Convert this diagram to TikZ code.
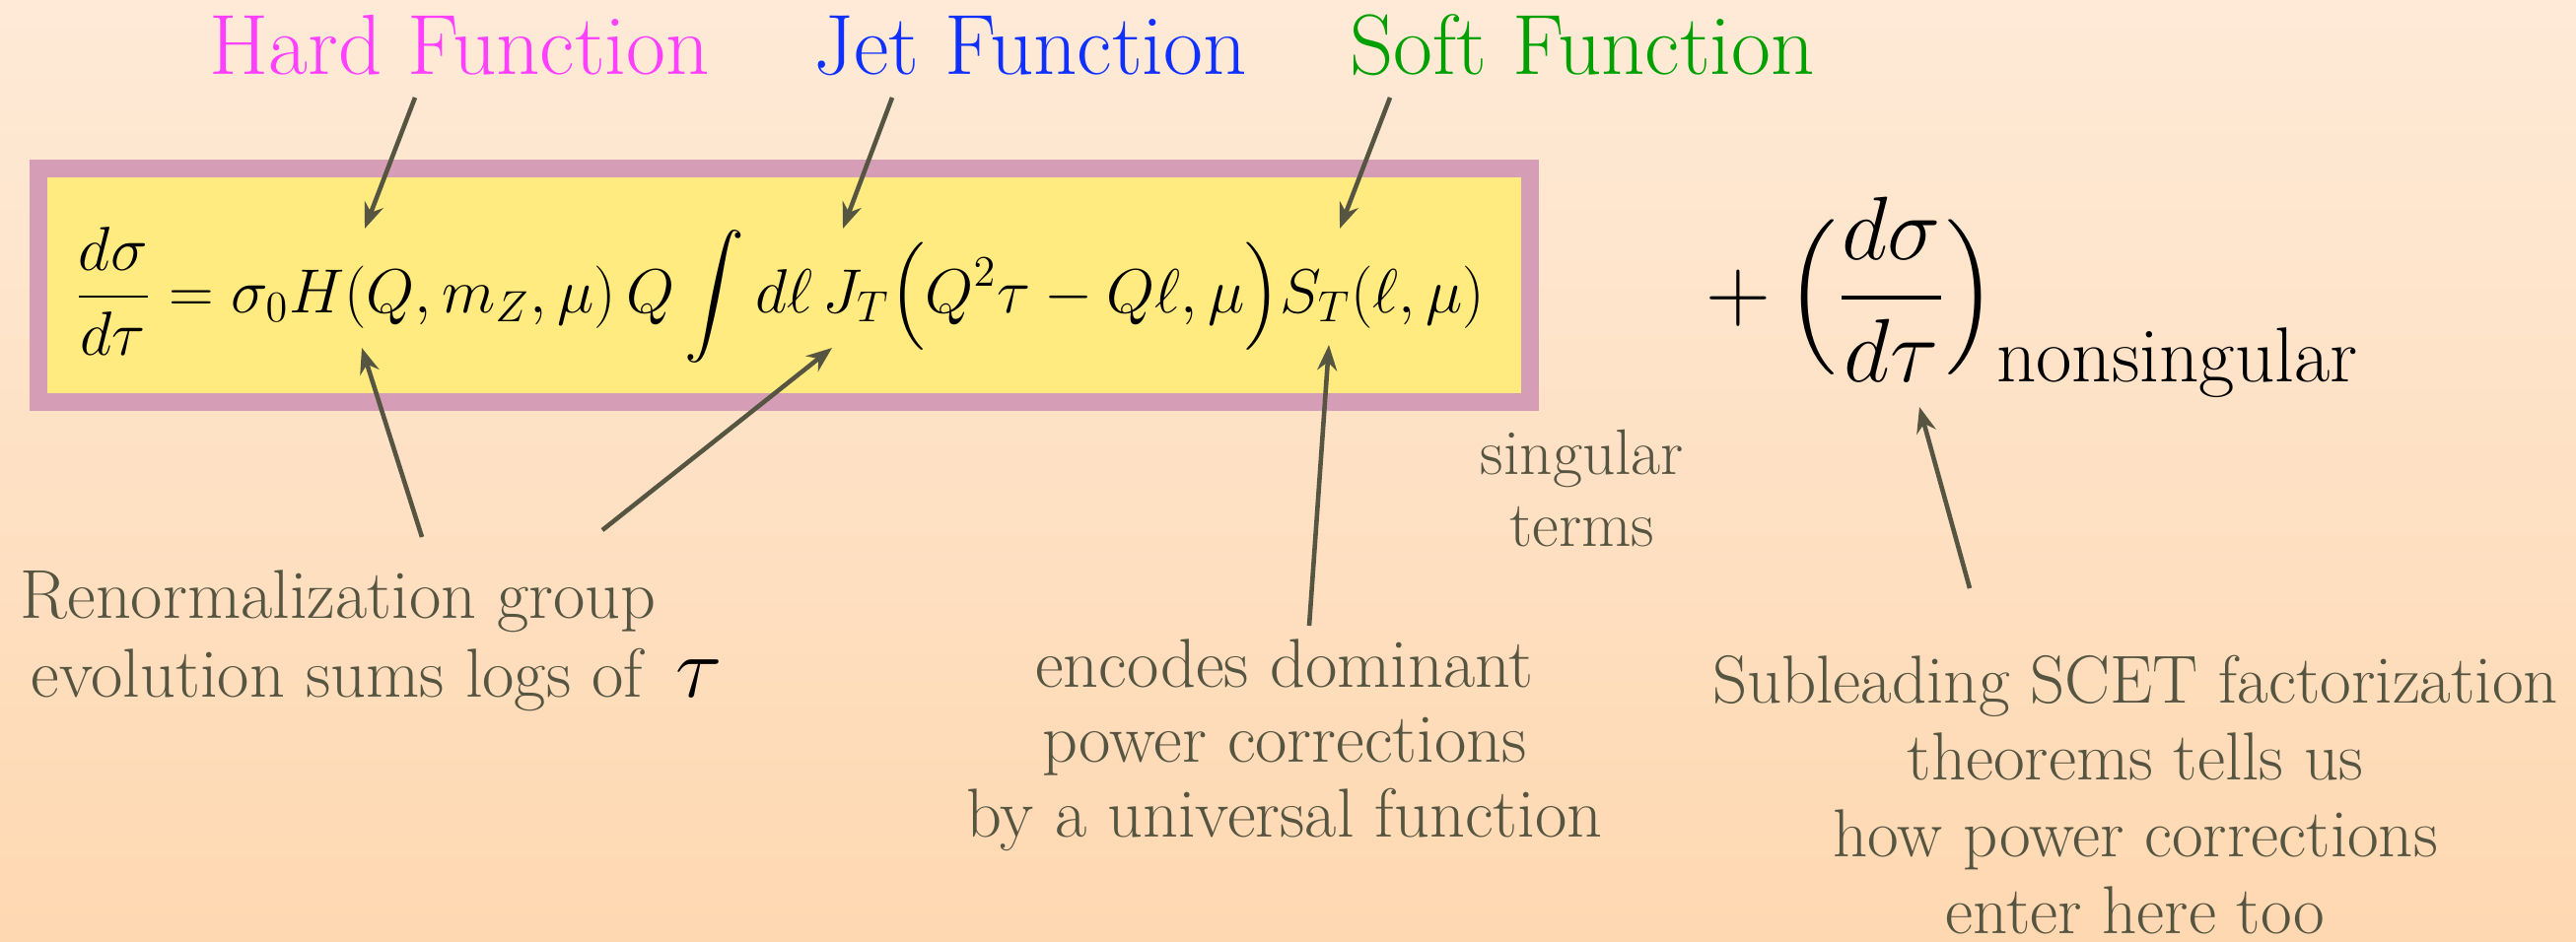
\RequirePackage{fix-cm}
\documentclass[tikz,border=0pt]{standalone}
\usepackage{amsmath}
\usepackage{fontspec}
\usepackage{xcolor}
\usepackage{tikz}
\usetikzlibrary{arrows.meta,calc,positioning}
\definecolor{bgtop}{RGB}{254,234,215}
\definecolor{bgbot}{RGB}{254,216,177}
\definecolor{boxrim}{RGB}{214,158,182}
\definecolor{boxfill}{RGB}{255,235,128}
\definecolor{hardpink}{RGB}{255,64,255}
\definecolor{jetblue}{RGB}{16,48,255}
\definecolor{softgreen}{RGB}{0,160,0}
\definecolor{inkgray}{RGB}{86,85,66}
\tikzset{
  head/.style={font=\rmfamily\fontsize{24.7}{28}\selectfont,inner sep=0pt,anchor=base},
  note/.style={font=\rmfamily\fontsize{20}{22.2}\selectfont,text=inkgray,inner sep=0pt,align=center,anchor=north},
  eqframe/.style={draw=boxrim,fill=boxfill,line width=0.18cm,inner sep=0pt},
  arr/.style={-{Stealth[length=0.26cm,width=0.2cm]},line width=1.3pt,draw=inkgray},
}

\begin{document}
\begin{tikzpicture}[x=1cm,y=1cm]
  \fill[top color=bgtop,bottom color=bgbot] (0,0) rectangle (26.13,-9.55);
  \useasboundingbox (0,0) rectangle (26.13,-9.55);

  \node[head,text=hardpink] (hard) at (4.66,-0.75) {Hard Function};
  \node[head,text=jetblue] (jet) at (10.45,-0.75) {Jet Function};
  \node[head,text=softgreen] (soft) at (16.05,-0.75) {Soft Function};

  \node[eqframe,minimum width=15.13cm,minimum height=2.37cm] (eqbox) at (7.955,-2.895) {};
  \node[inner sep=0pt,anchor=base west,font=\fontsize{18}{22}\selectfont] (eq) at (0.75,-3.17)
    {$\displaystyle \frac{d\sigma}{d\tau} = \sigma_0 H(Q,m_Z,\mu)\,Q\int d\ell\,J_T\Bigl(Q^2\tau-Q\ell,\mu\Bigr)S_T(\ell,\mu)$};
  \node[inner sep=0pt,anchor=base west,font=\fontsize{26}{30}\selectfont] (rest) at (17.30,-3.25)
    {$\displaystyle +\,\Bigl(\frac{d\sigma}{d\tau}\Bigr)_{\mbox{\fontsize{22.5}{26}\selectfont nonsingular}}$};

  \coordinate (hardtip) at (3.70,-2.32);
  \coordinate (jettip) at (8.55,-2.32);
  \coordinate (softtip) at (13.59,-2.32);
  \coordinate (rgtiph) at (3.67,-3.53);
  \coordinate (rgtipj) at (8.44,-3.53);
  \coordinate (enctip) at (13.48,-3.50);
  \coordinate (nstip) at (19.47,-4.13);

  \node[note,font=\rmfamily\fontsize{18.6}{20.8}\selectfont] (sing) at (16.05,-4.35) {singular\\terms};
  \node[note,align=left,anchor=north west,font=\rmfamily\fontsize{20}{22.8}\selectfont] (rg) at (0.20,-5.78)
    {Renormalization group\\\hspace{0.11cm}evolution sums logs of\hspace{0.33cm}{\color{black}\fontsize{25}{25}\selectfont$\tau$}};
  \node[note,font=\rmfamily\fontsize{20}{21.6}\selectfont] (enc) at (13.03,-6.48)
    {encodes dominant\\power corrections\\by a universal function};
  \node[note,font=\rmfamily\fontsize{19.6}{22.2}\selectfont] (sub) at (21.66,-6.64)
    {Subleading SCET factorization\\theorems tells us\\how power corrections\\enter here too};

  \draw[arr] ([shift={(-0.45,-0.24)}]hard.base) -- (hardtip);
  \draw[arr] ([shift={(-1.40,-0.24)}]jet.base) -- (jettip);
  \draw[arr] ([shift={(-1.95,-0.24)}]soft.base) -- (softtip);
  \draw[arr] ([shift={(4.08,0.33)}]rg.north west) -- (rgtiph);
  \draw[arr] ([shift={(5.91,0.40)}]rg.north west) -- (rgtipj);
  \draw[arr] ([shift={(0.25,0.13)}]enc.north) -- (enctip);
  \draw[arr] ([shift={(-1.68,0.67)}]sub.north) -- (nstip);
\end{tikzpicture}
\end{document}
